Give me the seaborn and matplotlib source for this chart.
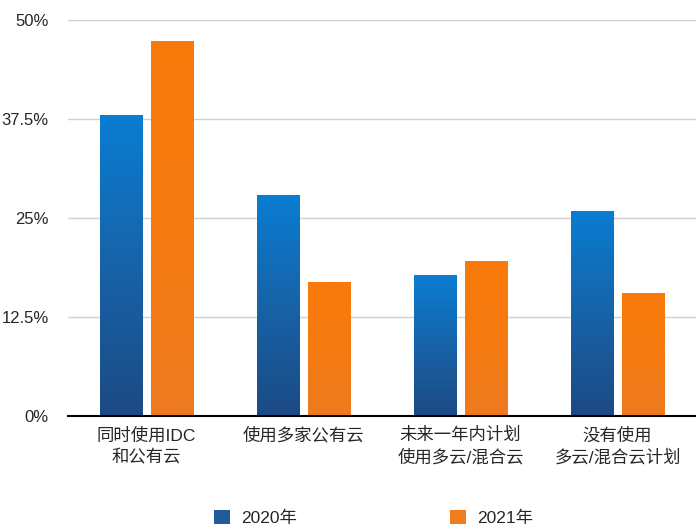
import numpy as np
import pandas as pd
import matplotlib.pyplot as plt
import seaborn as sns
from matplotlib.patches import Patch
from matplotlib.colors import LinearSegmentedColormap

# chart values (percent)
categories = ['同时使用IDC\n和公有云', '使用多家公有云', '未来一年内计划\n使用多云/混合云', '没有使用\n多云/混合云计划']
years = ['2020年', '2021年']
values_2020 = [38.0, 27.9, 17.8, 25.9]
values_2021 = [47.3, 16.9, 19.6, 15.5]
y_ticks = [0, 12.5, 25, 37.5, 50]
y_tick_labels = ['0%', '12.5%', '25%', '37.5%', '50%']

df = pd.DataFrame({
    'category': categories * 2,
    'year': [years[0]] * 4 + [years[1]] * 4,
    'value': values_2020 + values_2021,
})

sns.set_style('white')
plt.rcParams['font.family'] = ['Liberation Sans', 'Noto Sans CJK SC', 'DejaVu Sans']

fig = plt.figure(figsize=(6.96, 5.31), dpi=100)
ax = fig.add_axes([68 / 696, 115 / 531, 1 - 68 / 696, 396 / 531])

solid = {'2020年': '#1a62a8', '2021年': '#f27a12'}
sns.barplot(data=df, x='category', y='value', hue='year', hue_order=years,
            palette=solid, width=0.65, gap=0.176, legend=False, ax=ax,
            edgecolor='none', zorder=3)

# gradient fill for the bars
grads = {
    '2020年': LinearSegmentedColormap.from_list('b', ['#1c4a85', '#1763a8', '#0a7dd2']),
    '2021年': LinearSegmentedColormap.from_list('o', ['#ee7a20', '#f57a10', '#f87a0a']),
}
grad = np.linspace(0, 1, 256).reshape(-1, 1)
bars = [p for p in ax.patches]
for i, p in enumerate(bars):
    yr = years[i // len(categories)]
    x0, y0 = p.get_x(), p.get_y()
    w, h = p.get_width(), p.get_height()
    im = ax.imshow(grad, cmap=grads[yr], origin='lower', aspect='auto',
                   extent=[x0, x0 + w, y0, y0 + h], zorder=3)
    im.set_clip_path(p)

ax.set_xlim(-0.5, 3.5)
ax.set_ylim(0, 50)
ax.set_yticks(y_ticks)
ax.set_yticklabels(y_tick_labels, fontsize=12)
ax.tick_params(axis='y', length=0, pad=14)
ax.tick_params(axis='x', length=0, pad=8, labelsize=12.5)
for lbl in ax.get_xticklabels():
    lbl.set_linespacing(1.45)
ax.set_xlabel('')
ax.set_ylabel('')
ax.grid(axis='y', color='#d0d0d0', linewidth=1, zorder=0)
ax.set_axisbelow(True)
for s in ['top', 'right', 'left']:
    ax.spines[s].set_visible(False)
ax.spines['bottom'].set_color('black')
ax.spines['bottom'].set_linewidth(1.5)
ax.spines['bottom'].set_zorder(4)

handles = [Patch(facecolor='#1e5c9e', edgecolor='none', label=years[0]),
           Patch(facecolor='#ef7d1f', edgecolor='none', label=years[1])]
fig.legend(handles=handles, loc='center', bbox_to_anchor=(0.537, 13 / 531), ncol=2,
           frameon=False, fontsize=12.5, handlelength=0.9, handleheight=0.85,
           handletextpad=0.66, columnspacing=8.8)

fig.savefig('out.png', dpi=100)
